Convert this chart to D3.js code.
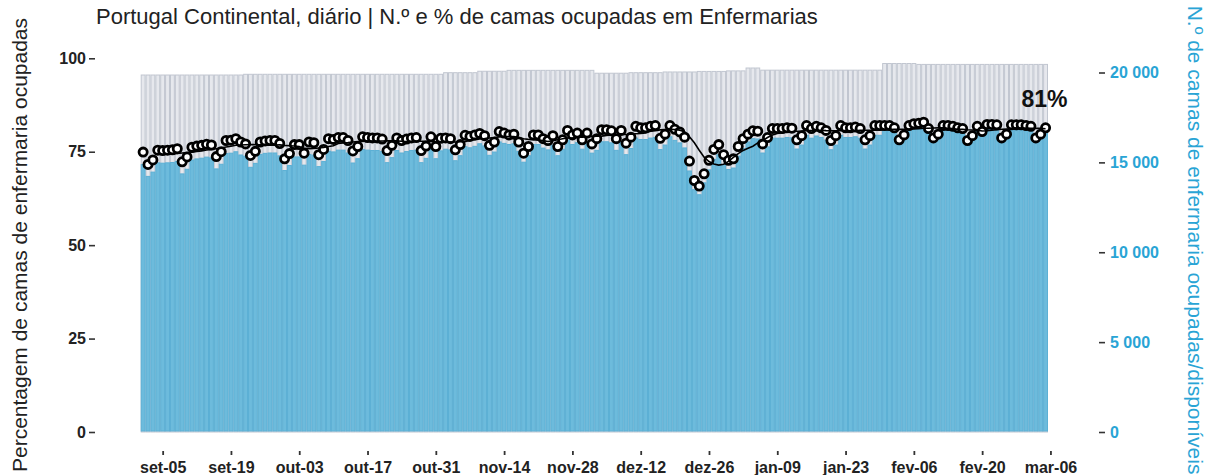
<!DOCTYPE html>
<html><head><meta charset="utf-8">
<script src="https://cdn.jsdelivr.net/npm/d3@7"></script>
<style>
body{margin:0;background:#fff}
svg{display:block}
text{font-family:"Liberation Sans",Arial,Helvetica,sans-serif}
</style>
</head><body>
<svg id="c" width="1206" height="475"></svg>
<script>
// ---------------- data ----------------
const startDay = "2022-09-01";
const endDay = "2023-03-05";

// % de camas ocupadas (enfermarias), diário
const pctOcupadas = [
 74.9, 71.6, 72.8, 75.4, 75.3, 75.4, 75.5, 75.8, 72.3, 73.6,
 76.2, 76.5, 76.7, 77.0, 76.8, 73.7, 75.0, 78.0, 78.1, 78.5,
 77.6, 77.1, 74.0, 75.1, 77.6, 77.9, 78.0, 78.0, 77.2, 73.1,
 74.5, 76.9, 76.9, 74.6, 77.6, 77.4, 74.2, 75.6, 78.5, 78.3,
 78.8, 78.8, 78.0, 75.2, 76.4, 79.0, 78.8, 78.7, 78.7, 78.4,
 75.3, 76.7, 78.7, 78.0, 78.4, 78.7, 78.8, 75.3, 76.5, 79.0,
 76.4, 78.6, 78.7, 78.5, 75.5, 76.9, 79.4, 79.1, 79.5, 79.9,
 79.3, 76.7, 77.6, 80.4, 80.0, 79.5, 79.7, 77.6, 74.6, 76.4,
 79.5, 79.5, 78.5, 78.0, 79.3, 76.4, 78.2, 80.7, 79.5, 80.0,
 78.2, 80.0, 77.1, 78.5, 80.9, 80.9, 80.6, 78.5, 80.7, 77.3,
 78.9, 81.8, 81.4, 81.4, 81.8, 82.0, 78.6, 79.7, 82.0, 81.0,
 80.3, 78.9, 72.5, 67.3, 65.8, 69.1, 72.7, 75.6, 76.9, 74.2,
 72.7, 73.1, 76.4, 78.5, 79.7, 80.6, 80.5, 77.1, 78.8, 81.2,
 81.2, 81.2, 81.4, 81.3, 78.2, 79.3, 82.0, 81.2, 81.8, 81.4,
 80.7, 78.0, 79.3, 82.0, 81.4, 81.4, 81.6, 81.2, 78.2, 79.3,
 82.0, 82.0, 82.0, 82.0, 81.4, 78.2, 79.5, 82.0, 82.5, 82.6,
 82.9, 81.2, 78.7, 79.7, 82.0, 82.0, 81.8, 81.4, 81.2, 78.0,
 79.3, 81.8, 80.4, 82.3, 82.3, 82.2, 78.7, 79.7, 82.2, 82.2,
 82.2, 82.0, 81.8, 78.7, 79.7, 81.4
];

// N.º de camas disponíveis (enfermarias), diário
const camasDisponiveis = [
 19860, 19860, 19860, 19860, 19860, 19860, 19860, 19860, 19860, 19860,
 19860, 19860, 19860, 19860, 19860, 19860, 19860, 19860, 19860, 19860,
 19860, 19900, 19900, 19900, 19900, 19900, 19900, 19900, 19900, 19900,
 19900, 19900, 19900, 19900, 19900, 19900, 19900, 19900, 19900, 19900,
 19900, 19900, 19900, 19900, 19900, 19900, 19900, 19900, 19900, 19900,
 19900, 19900, 19900, 19900, 19900, 19900, 19900, 19900, 19900, 19900,
 19900, 19900, 19990, 19990, 19990, 19990, 19990, 19990, 19990, 20070,
 20070, 20070, 20070, 20070, 20070, 20120, 20120, 20120, 20120, 20120,
 20120, 20120, 20120, 20120, 20120, 20120, 20120, 20120, 20120, 20120,
 20120, 20120, 20120, 19960, 19960, 19960, 19960, 19960, 19960, 19960,
 19990, 19990, 19990, 19990, 19990, 19990, 19990, 20030, 20030, 20030,
 20030, 20030, 20030, 20030, 20060, 20060, 20060, 20060, 20060, 20060,
 20090, 20090, 20090, 20090, 20250, 20250, 20250, 20130, 20130, 20130,
 20130, 20130, 20130, 20130, 20130, 20130, 20130, 20130, 20130, 20130,
 20130, 20130, 20130, 20130, 20130, 20130, 20130, 20130, 20130, 20130,
 20130, 20130, 20500, 20500, 20500, 20500, 20500, 20500, 20500, 20450,
 20450, 20450, 20450, 20450, 20450, 20450, 20450, 20450, 20450, 20450,
 20450, 20450, 20450, 20450, 20450, 20450, 20450, 20450, 20450, 20450,
 20450, 20450, 20450, 20450, 20450, 20450
];

const xTickDates = ["2022-09-05","2022-09-19","2022-10-03","2022-10-17","2022-10-31",
  "2022-11-14","2022-11-28","2022-12-12","2022-12-26","2023-01-09","2023-01-23",
  "2023-02-06","2023-02-20","2023-03-06"];
const xTickLabels = ["set-05","set-19","out-03","out-17","out-31","nov-14","nov-28",
  "dez-12","dez-26","jan-09","jan-23","fev-06","fev-20","mar-06"];
const yLeftTicks = [0, 25, 50, 75, 100];
const yRightTicks = [0, 5000, 10000, 15000, 20000];
const rightMax = 20790;

const titleText = "Portugal Continental, diário | N.º e % de camas ocupadas em Enfermarias";
const leftTitle = "Percentagem de camas de enfermaria ocupadas";
const rightTitle = "N.º de camas de enfermaria ocupadas/disponíveis";

// ---------------- chart ----------------
const svg = d3.select("#c");
const parse = d3.utcParse("%Y-%m-%d");
const dates = d3.utcDay.range(parse(startDay), d3.utcDay.offset(parse(endDay), 1));
const data = dates.map((d, i) => ({
  date: d,
  pct: pctOcupadas[i],
  total: camasDisponiveis[i],
  occ: camasDisponiveis[i] * pctOcupadas[i] / 100
}));

const blue = "#29a4d5";
const x = d3.scaleUtc()
  .domain([d3.utcHour.offset(dates[0], -12), d3.utcHour.offset(dates[dates.length - 1], 12)])
  .range([140.7, 1048]);
const yL = d3.scaleLinear().domain([0, 100]).range([432, 58.3]);
const yR = d3.scaleLinear().domain([0, rightMax]).range([432, 58.3]);

const half = d => d3.utcHour.offset(d, -12);
const halfE = d => d3.utcHour.offset(d, 12);

// grey bars (available)
svg.append("g").selectAll("rect").data(data).join("rect")
  .attr("x", d => x(half(d.date)) + 0.5)
  .attr("width", d => x(halfE(d.date)) - x(half(d.date)) - 1)
  .attr("y", d => yR(d.total))
  .attr("height", d => yR(0) - yR(d.total))
  .attr("fill", "#e6e8ed")
  .attr("stroke", "#c1c6d0")
  .attr("stroke-width", 1);

// blue bars (occupied)
svg.append("g").selectAll("rect").data(data).join("rect")
  .attr("x", d => x(half(d.date)) + 0.5)
  .attr("width", d => x(halfE(d.date)) - x(half(d.date)) - 1)
  .attr("y", d => yR(d.occ))
  .attr("height", d => yR(0) - yR(d.occ) - 1)
  .attr("fill", "#6dbbdc")
  .attr("stroke", "#5cb0d5")
  .attr("stroke-width", 1);

// points
svg.append("g").selectAll("circle").data(data).join("circle")
  .attr("cx", d => x(d.date))
  .attr("cy", d => yL(d.pct))
  .attr("r", 4.1)
  .attr("fill", "#fff")
  .attr("stroke", "#000")
  .attr("stroke-width", 2.8);

// 7-day trailing mean line
const roll = data.map((d, i) => i < 6 ? null :
  ({date: d.date, v: d3.mean(data.slice(i - 6, i + 1), e => e.pct)})).filter(Boolean);
svg.append("path").datum(roll)
  .attr("fill", "none").attr("stroke", "#000").attr("stroke-width", 1.6)
  .attr("d", d3.line().x(d => x(d.date)).y(d => yL(d.v)));

// last value label
const last = data[data.length - 1];
svg.append("text")
  .attr("x", x(last.date) - 1).attr("y", yL(last.pct) - 21)
  .attr("text-anchor", "middle")
  .attr("font-size", 23).attr("font-weight", "bold").attr("fill", "#111")
  .text(d3.format(".0f")(Math.floor(last.pct)) + "%");

// axes
const fmtR = d3.formatLocale({decimal: ",", thousands: " ", grouping: [3], currency: ["", "€"]}).format(",");

const gL = svg.append("g").attr("transform", "translate(95,0)")
  .call(d3.axisLeft(yL).tickValues(yLeftTicks).tickSize(6).tickPadding(3));
gL.select(".domain").remove();
gL.selectAll("line").attr("stroke", "#333").attr("stroke-width", 1.6);
gL.selectAll("text").attr("font-size", 16).attr("font-weight", "bold").attr("fill", "#222")
  .style("font-family", '"Liberation Sans",Arial,sans-serif');

const gR = svg.append("g").attr("transform", "translate(1099,0)")
  .call(d3.axisRight(yR).tickValues(yRightTicks).tickSize(6).tickPadding(5).tickFormat(fmtR));
gR.select(".domain").remove();
gR.selectAll("line").attr("stroke", "#333").attr("stroke-width", 1.6);
gR.selectAll("text").attr("font-size", 16).attr("font-weight", "bold").attr("fill", blue)
  .style("font-family", '"Liberation Sans",Arial,sans-serif');

const gX = svg.append("g").attr("transform", "translate(0,451)")
  .call(d3.axisBottom(x).tickValues(xTickDates.map(parse)).tickSize(4).tickPadding(7)
    .tickFormat((d, i) => xTickLabels[i]));
gX.select(".domain").remove();
gX.selectAll("line").attr("stroke", "#333").attr("stroke-width", 1.8);
gX.selectAll("text").attr("font-size", 16).attr("font-weight", "bold").attr("fill", "#222")
  .style("font-family", '"Liberation Sans",Arial,sans-serif');

// titles
svg.append("text").attr("x", 96).attr("y", 23.5)
  .attr("font-size", 22).attr("fill", "#222").text(titleText);

svg.append("text").attr("transform", "translate(27,245) rotate(-90)")
  .attr("text-anchor", "middle").attr("font-size", 21).attr("fill", "#222").text(leftTitle);

svg.append("text").attr("transform", "translate(1188,240) rotate(90)")
  .attr("text-anchor", "middle").attr("font-size", 21).attr("fill", blue).text(rightTitle);
</script>
</body></html>
